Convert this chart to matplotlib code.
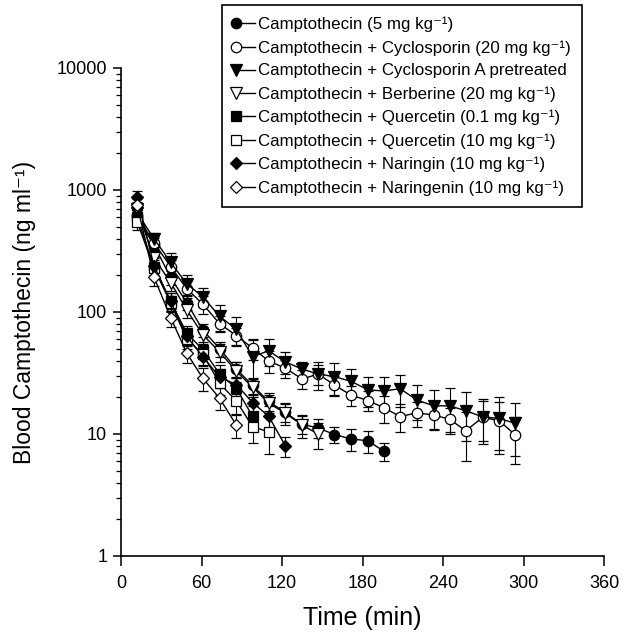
import matplotlib
matplotlib.use("Agg")
import matplotlib.pyplot as plt
import numpy as np
from matplotlib.legend_handler import HandlerLine2D
from matplotlib.lines import Line2D
from matplotlib.ticker import LogLocator, NullFormatter

plt.rcParams["font.family"] = ["Liberation Sans", "DejaVu Sans"]

# Sampling times (min)
times = [12, 24.5, 37, 49, 61, 73.5, 86, 98, 110, 122.5, 135, 147,
         159, 171.5, 184, 196, 208, 220.5, 233, 245, 257, 269.5, 282, 294]

# Blood camptothecin (ng/ml), mean and SD for each group
ctp_mean = [600, 354, 192, 119, 71, 50, 34, 25, 18.5, 15, 12, 11.2, 9.9, 9.1, 8.8, 7.2]
ctp_sd = [90, 50, 25, 15, 9, 7, 5, 4, 3, 2.5, 2, 2, 1.5, 1.8, 1.8, 1.2]

csa_mean = [620, 370, 235, 155, 116, 80, 64, 50.6, 39.7, 34.6, 28.2, 31,
            25.2, 20.8, 18.8, 16.4, 13.9, 14.9, 14.3, 13.2, 10.6, 13.7, 12.8, 9.8]
csa_sd = [100, 50, 30, 25, 20, 12, 10, 10, 8, 6, 5, 6,
          4.5, 4, 3.5, 4, 3.6, 3.4, 3.6, 3.2, 4.6, 5, 5.4, 4.1]

csap_mean = [650, 400, 255, 170, 133, 92, 72, 43, 48, 39, 34, 31,
             29.5, 27, 23, 22.5, 23.5, 19, 17, 17, 15.5, 13.8, 13.4, 12.2]
csap_sd = [120, 45, 50, 32, 23, 22, 19, 16, 12, 8, 5, 8,
           9, 7, 6.5, 7, 7, 6, 6, 6.7, 6.7, 5.5, 6.6, 5.6]

ber_mean = [700, 278, 174, 104, 65, 47, 32.6, 24.2, 17.9, 14.8, 11.8, 10]
ber_sd = [100, 40, 25, 15, 10, 8, 6, 4, 3, 3, 2.5, 2.4]

que01_mean = [600, 235, 122, 67, 49, 31, 23.6, 14]
que01_sd = [90, 40, 20, 10, 8, 6, 5, 3]

que10_mean = [550, 230, 118, 60, 45, 26, 18.6, 11.5, 10.4]
que10_sd = [80, 35, 18, 10, 8, 5, 4, 3, 3.5]

nar_mean = [880, 240, 122, 63, 43, 29.2, 25.4, 18.1, 14.0, 8.0]
nar_sd = [100, 40, 20, 10, 7, 5, 4, 3, 3, 1.5]

nen_mean = [750, 194, 90, 46, 28.6, 19.6, 11.8]
nen_sd = [100, 30, 15, 8, 6, 4, 2.5]

labels = [
    "Camptothecin (5 mg kg\u207b\u00b9)",
    "Camptothecin + Cyclosporin (20 mg kg\u207b\u00b9)",
    "Camptothecin + Cyclosporin A pretreated",
    "Camptothecin + Berberine (20 mg kg\u207b\u00b9)",
    "Camptothecin + Quercetin (0.1 mg kg\u207b\u00b9)",
    "Camptothecin + Quercetin (10 mg kg\u207b\u00b9)",
    "Camptothecin + Naringin (10 mg kg\u207b\u00b9)",
    "Camptothecin + Naringenin (10 mg kg\u207b\u00b9)",
]
means = [ctp_mean, csa_mean, csap_mean, ber_mean, que01_mean, que10_mean, nar_mean, nen_mean]
sds = [ctp_sd, csa_sd, csap_sd, ber_sd, que01_sd, que10_sd, nar_sd, nen_sd]
markers = ["o", "o", "v", "v", "s", "s", "D", "D"]
faces = ["black", "white", "black", "white", "black", "white", "black", "white"]
sizes = [7.5, 7.5, 8, 8, 6.5, 6.5, 6.5, 6.5]


class MarkerFirstHandler(HandlerLine2D):
    # legend handle with the marker at the left end of the line
    def create_artists(self, legend, orig_handle, xdescent, ydescent,
                       width, height, fontsize, trans):
        artists = super().create_artists(legend, orig_handle, xdescent, ydescent,
                                         width, height, fontsize, trans)
        line = artists[0]
        x = line.get_xdata()
        x0 = x[0] + 0.1 * (x[-1] - x[0])
        line.set_xdata([x0, x0, x[-1]])
        return artists


fig = plt.figure(figsize=(6.32, 6.4), dpi=100)
ax = fig.add_axes([0.1915, 0.1313, 0.7642, 0.7625])

handles = []
for mean, sd, m, fc, ms in zip(means, sds, markers, faces, sizes):
    t = times[:len(mean)]
    cont = ax.errorbar(t, mean, yerr=sd, fmt="-", marker=m, color="black",
                       mfc=fc, mec="black", ms=ms, mew=0.9, lw=1.0,
                       elinewidth=0.8, capsize=3.5, capthick=0.8)
    handles.append(cont.lines[0])

ax.set_yscale("log")
ax.set_ylim(1, 10000)
ax.set_xlim(0, 360)
ax.set_xticks(range(0, 361, 60))
ax.set_yticks([1, 10, 100, 1000, 10000])
ax.set_yticklabels(["1", "10", "100", "1000", "10000"])
ax.yaxis.set_minor_locator(LogLocator(base=10, subs=range(2, 10)))
ax.yaxis.set_minor_formatter(NullFormatter())

for side in ["top", "right"]:
    ax.spines[side].set_visible(False)
for side in ["left", "bottom"]:
    ax.spines[side].set_linewidth(1.2)

ax.tick_params(axis="x", which="major", direction="out", length=7, width=1.1,
               labelsize=13, pad=7)
ax.tick_params(axis="y", which="major", direction="out", length=6, width=1.1,
               labelsize=13, pad=4)
ax.tick_params(axis="y", which="minor", direction="out", length=3.5, width=0.9)

ax.set_xlabel("Time (min)", fontsize=18)
ax.xaxis.set_label_coords(0.5, -0.102)
ax.set_ylabel("Blood Camptothecin (ng ml\u207b\u00b9)", fontsize=16.5, labelpad=15)

leg = ax.legend(handles, labels, loc="upper left", bbox_to_anchor=(0.209, 1.129),
                frameon=True, fancybox=False, edgecolor="black", framealpha=1,
                fontsize=12.2, numpoints=1, handlelength=1.25, handletextpad=0.2,
                labelspacing=0.47, borderpad=0.68, borderaxespad=0,
                handler_map={Line2D: MarkerFirstHandler()})
leg.get_frame().set_linewidth(1.2)

plt.savefig("out.png", dpi=100)
plt.close(fig)
